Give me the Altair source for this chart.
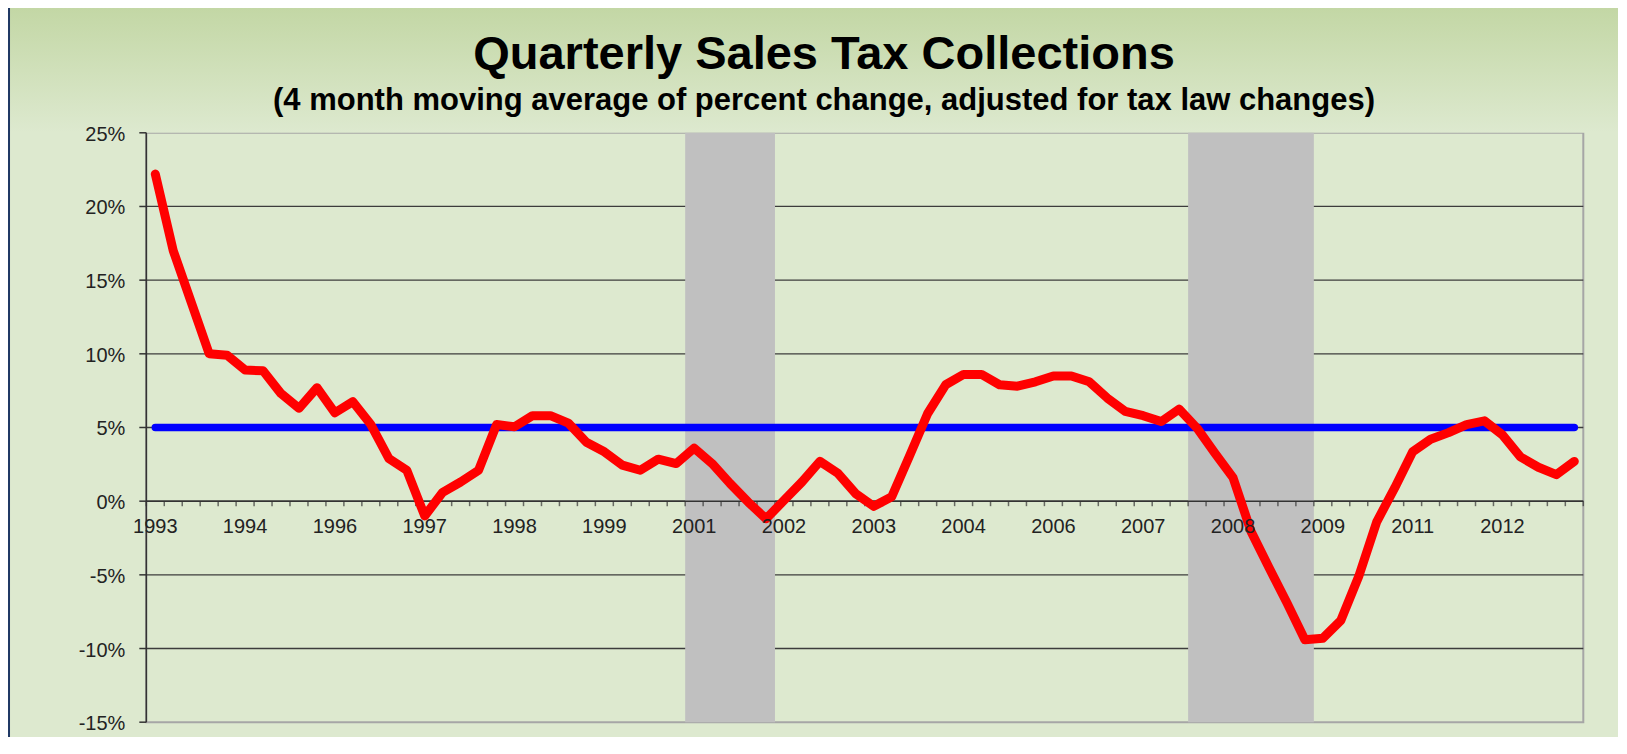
import altair as alt
import pandas as pd

# ---------------- data ----------------
title_text = "Quarterly Sales Tax Collections"
subtitle_text = "(4 month moving average of percent change, adjusted for tax law changes)"

# quarterly values, first quarter = 1993 Q3, last = 2013 Q2 (percent)
growth = [
    22.2, 17.0, 13.5, 10.0, 9.9, 8.9, 8.85, 7.3, 6.3, 7.7,
    6.0, 6.75, 5.2, 2.9, 2.1, -1.0, 0.6, 1.3, 2.1, 5.2,
    5.05, 5.8, 5.8, 5.3, 4.0, 3.35, 2.45, 2.1, 2.85, 2.55,
    3.6, 2.55, 1.2, -0.05, -1.2, 0.05, 1.3, 2.7, 1.9, 0.5,
    -0.35, 0.3, 3.1, 5.95, 7.9, 8.6, 8.6, 7.9, 7.8, 8.1,
    8.5, 8.5, 8.1, 7.0, 6.1, 5.8, 5.4, 6.25, 4.95, 3.25,
    1.6, -2.05, -4.5, -6.9, -9.4, -9.3, -8.1, -5.1, -1.4, 0.9,
    3.35, 4.2, 4.65, 5.2, 5.45, 4.5, 3.0, 2.3, 1.8, 2.7,
]
# category labels shown every 5th quarter
year_labels = ["1993", "1994", "1996", "1997", "1998", "1999", "2001", "2002",
               "2003", "2004", "2006", "2007", "2008", "2009", "2011", "2012"]
label_every = 5
target_rate = 5.0
# recessions as first / last quarter index
recession_first = [30, 58]
recession_last = [34, 64]
y_ticks = [-15, -10, -5, 0, 5, 10, 15, 20, 25]
grid_values = [-10, -5, 0, 5, 10, 15, 20]

# ---------------- layout ----------------
W = 1437
H = 589.4
PAD_L = 138.3
PAD_T = 124.8
PAD_R = 35
PAD_B = 15
FONT = "Liberation Sans"
AXIS_COLOR = "#333333"
LABEL_COLOR = "#222222"

n = len(growth)
df = pd.DataFrame({"idx": list(range(n)), "value": growth})
rec = pd.DataFrame({"first": recession_first, "last": recession_last})
tgt = pd.DataFrame({"x0": [0], "x1": [n - 1], "y": [target_rate]})
grid_df = pd.DataFrame({"g": grid_values})
ytick_df = pd.DataFrame({"v": y_ticks})
xtick_df = pd.DataFrame({"b": [i - 0.5 for i in range(n + 1)]})  # category boundaries
xlab_df = pd.DataFrame({"idx": [k * label_every for k in range(len(year_labels))],
                        "label": year_labels})
one = pd.DataFrame({"a": [0]})

xscale = alt.Scale(domain=[-0.5, n - 0.5], nice=False, zero=False)
yscale = alt.Scale(domain=[-15, 25], nice=False, zero=False)

bg = alt.Chart(one).mark_rect(
    fill=alt.Gradient(
        gradient="linear",
        stops=[alt.GradientStop(color="#c3d7a5", offset=0),
               alt.GradientStop(color="#dde9cf", offset=1)],
        x1=0, x2=0, y1=0, y2=1,
    )
).encode(x=alt.value(-PAD_L), x2=alt.value(W + PAD_R), y=alt.value(-PAD_T), y2=alt.value(0))

frame = alt.Chart(one).mark_rule(color="#1f3864", strokeWidth=2).encode(
    x=alt.value(-PAD_L + 1), y=alt.value(-PAD_T), y2=alt.value(H + PAD_B)
)

gridlines = alt.Chart(grid_df).mark_rule(color="#3c3c3c", strokeWidth=1.3).encode(
    y=alt.Y("g:Q", scale=yscale, axis=None), x=alt.value(0), x2=alt.value(W)
)

bands = alt.Chart(rec).transform_calculate(
    x0="datum.first - 0.5", x1="datum.last + 0.5"
).mark_rect(color="#c0c0c0").encode(
    x=alt.X("x0:Q", scale=xscale, axis=None),
    x2="x1:Q",
    y=alt.value(0),
    y2=alt.value(H),
)

# y axis: line, ticks, labels
y_domain = alt.Chart(one).mark_rule(color=AXIS_COLOR, strokeWidth=1.5).encode(
    x=alt.value(0), y=alt.value(0), y2=alt.value(H)
)
y_tick_marks = alt.Chart(ytick_df).mark_rule(color=AXIS_COLOR, strokeWidth=1.5).encode(
    y=alt.Y("v:Q", scale=yscale, axis=None), x=alt.value(-7), x2=alt.value(0)
)
y_labels = alt.Chart(ytick_df).transform_calculate(
    txt="datum.v + '%'"
).mark_text(font=FONT, fontSize=20, color=LABEL_COLOR, align="right",
            baseline="middle", dy=2).encode(
    y=alt.Y("v:Q", scale=yscale, axis=None), x=alt.value(-21), text="txt:N"
)

# x axis at the 0% line: line, ticks at category boundaries, labels
zero_line = alt.Chart(one).mark_rule(color=AXIS_COLOR, strokeWidth=1.5).encode(
    y=alt.Y(datum=0, scale=yscale, axis=None), x=alt.value(0), x2=alt.value(W)
)
x_tick_marks = alt.Chart(xtick_df).mark_tick(
    color=AXIS_COLOR, orient="vertical", size=5, thickness=1.5, yOffset=2.5
).encode(
    x=alt.X("b:Q", scale=xscale, axis=None),
    y=alt.Y(datum=0, scale=yscale, axis=None),
)
x_labels = alt.Chart(xlab_df).mark_text(
    font=FONT, fontSize=20, color=LABEL_COLOR, align="center",
    baseline="alphabetic", dy=32,
).encode(
    x=alt.X("idx:Q", scale=xscale, axis=None),
    y=alt.Y(datum=0, scale=yscale, axis=None),
    text="label:N",
)

target = alt.Chart(tgt).mark_rule(color="#0000ff", strokeWidth=7.5, strokeCap="round").encode(
    x=alt.X("x0:Q", scale=xscale, axis=None),
    x2="x1:Q",
    y=alt.Y("y:Q", scale=yscale, axis=None),
)

line = alt.Chart(df).mark_line(
    color="#ff0000", strokeWidth=9, strokeCap="round", strokeJoin="round"
).encode(
    x=alt.X("idx:Q", scale=xscale, axis=None),
    y=alt.Y("value:Q", scale=yscale, axis=None),
)

title = alt.Chart(one).mark_text(
    text=title_text, font=FONT, fontSize=47, fontWeight="bold",
    align="center", baseline="alphabetic", color="#000000",
).encode(x=alt.value(824 - 146.3), y=alt.value(-63.5))

subtitle = alt.Chart(one).mark_text(
    text=subtitle_text, font=FONT, fontSize=31, fontWeight="bold",
    align="center", baseline="alphabetic", color="#000000",
).encode(x=alt.value(824 - 146.3), y=alt.value(-22.8))

chart = alt.layer(
    bg, frame, gridlines, bands, y_domain, y_tick_marks, y_labels,
    zero_line, x_tick_marks, target, line, x_labels, title, subtitle,
).properties(
    width=W,
    height=H,
    autosize=alt.AutoSizeParams(type="none"),
    padding={"left": PAD_L, "top": PAD_T, "right": PAD_R, "bottom": PAD_B},
    background="#dde9cf",
).configure_view(fill="#dde9cf", stroke="#a6a6a6", strokeWidth=2)

chart.save("out.html", embed_options={"renderer": "svg", "actions": False})
